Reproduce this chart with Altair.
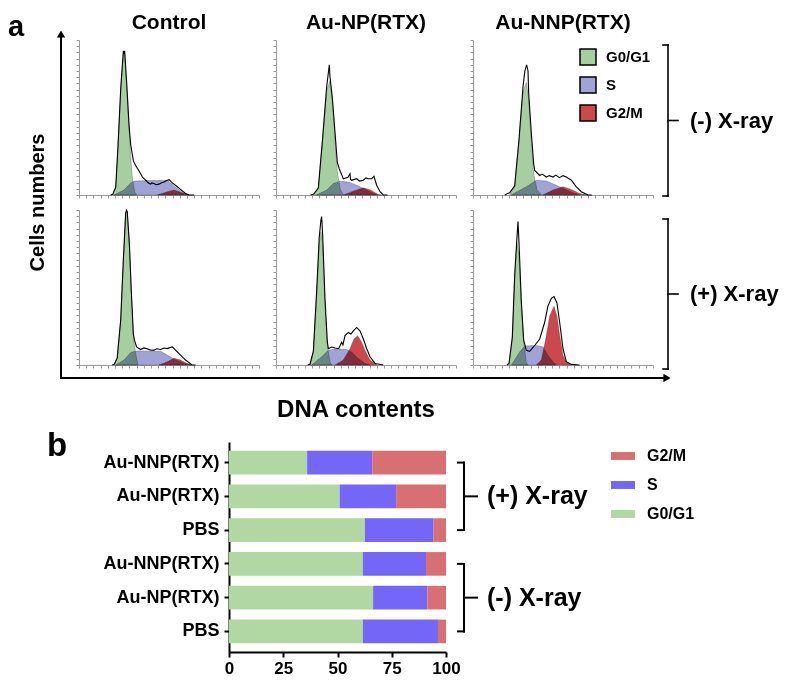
import altair as alt
import pandas as pd

FONT = "Liberation Sans"

# ---------------- panel a : DNA histograms ----------------
TREATMENTS = ["Control", "Au-NP(RTX)", "Au-NNP(RTX)"]
XRAYS = ["(-) X-ray", "(+) X-ray"]
PHASES_A = ["G0/G1", "S", "G2/M"]
COLORS_A = ["#a6cea0", "#a0a3d6", "#cb484c"]

# (DNA channel, relative count)
CTRL_NEG_G1 = [(46, 0), (51, 5), (54, 30), (58, 68), (61.6, 91), (63.4, 91.6), (66, 72.6), (69.5, 43), (71.8, 24), (74, 11.6), (77.3, 2), (80, 0)]
CTRL_NEG_S = [(48.6, 0), (62.5, 3.2), (71.8, 7.8), (77.3, 9), (95, 9.3), (122.7, 9.3), (127, 7.8), (136.6, 4.2), (145.8, 1), (152.8, 0)]
CTRL_NEG_G2 = [(108.8, 0), (122.7, 2.1), (132, 3.2), (141, 1.7), (152.8, 0)]
CTRL_NEG_RAW = [(44, 0), (47, 0.5), (51, 5), (54, 30), (58, 69), (61.6, 93), (62.8, 91), (63.4, 93), (66, 74), (69.5, 45), (71.8, 32.6), (75.5, 22), (78.7, 19), (83, 15.8), (88, 11.6), (95, 8.4), (97, 7.6), (99.5, 7), (101, 7.8), (104, 7.4), (107, 6.6), (111, 7), (114, 7.8), (118, 8.4), (121, 9.2), (125, 9.9), (129.6, 7.8), (134, 6.3), (141, 3.6), (148, 1), (153, 0), (160, 0)]

CTRL_POS_G1 = [(48.6, 0), (53, 4.3), (57.9, 28.7), (61.6, 67), (64.8, 97.9), (67, 99), (70, 77.7), (72.7, 45.8), (75.5, 18), (78.7, 7.4), (82, 0)]
CTRL_POS_S = [(51, 0), (62.5, 3.2), (71.8, 8), (80, 9.1), (113.4, 8.9), (122.7, 6.4), (134, 3.2), (146, 1), (157, 0)]
CTRL_POS_G2 = [(111, 0), (122.7, 2.1), (132, 4.3), (141, 3.2), (150, 1), (157, 0)]
CTRL_POS_RAW = [(46, 0), (49, 0.5), (53, 4.5), (57.9, 29), (61.6, 68), (64.8, 98), (66, 100), (67, 99), (70, 78), (72.7, 47), (75.5, 20), (77, 16), (80, 11.7), (85.6, 10), (90, 11), (95, 10.4), (100, 9.5), (104, 9.6), (108, 10.5), (113.4, 10), (118, 11), (122.7, 10.6), (126, 11.2), (129.6, 11.7), (134, 9.6), (141, 6.4), (148, 3.2), (157, 0), (162, 0)]

NP_NEG_G1 = [(51.9, 0), (58.8, 4.2), (64.8, 35.8), (70.4, 67.4), (75, 73.7), (78.2, 61), (82, 35.8), (85.2, 14.7), (88.9, 4.2), (93.5, 0)]
NP_NEG_S = [(56.5, 0), (70.4, 3.2), (79.6, 7.4), (88.9, 8.8), (100.5, 8.4), (112, 6.3), (121.3, 4.2), (135, 1), (142, 0)]
NP_NEG_G2 = [(93.5, 0), (107.4, 2.5), (121.3, 4.6), (130.6, 3.4), (142, 0.4), (146.8, 0)]
NP_NEG_RAW = [(48, 0), (52, 0.5), (58.8, 4.5), (64.8, 37), (70.4, 70), (73, 80), (74, 84), (75, 76), (78.2, 63), (82, 40), (85.2, 21), (88, 16.8), (93.5, 10.5), (100, 11.5), (102.8, 13.7), (103.5, 10), (105, 9.5), (112, 10.5), (116, 9), (121.3, 9.5), (125, 11), (128, 10.5), (132.9, 10.5), (136, 12), (139.8, 6.3), (144.5, 2.1), (149, 0), (155, 0)]

NP_POS_G1 = [(47.2, 0), (51.9, 8.4), (56.5, 46), (60, 78), (62.5, 86), (64.8, 78), (68, 40), (71.3, 12.6), (75, 2), (77.3, 0)]
NP_POS_S = [(49.5, 0), (63.4, 5.3), (72.7, 9.5), (84.3, 10.5), (98, 10), (105, 8.4), (114, 4.2), (123.6, 1), (130.6, 0)]
NP_POS_G2 = [(82, 0), (93.5, 3.2), (102.8, 10.5), (108.3, 16.8), (113.4, 18.9), (119, 14.7), (123.6, 9.5), (130.6, 3.2), (140, 0)]
NP_POS_RAW = [(44, 0), (47.2, 0.5), (51.9, 9), (56.5, 48), (60, 82), (62.5, 94), (63.4, 95.8), (64.8, 84), (68, 43), (71.3, 15), (72.7, 10.5), (77.3, 11.6), (82, 11), (87, 10.5), (91.2, 14.7), (93, 13), (95.8, 19), (100.5, 21), (104, 20), (107.4, 22), (112, 24.2), (116.6, 22), (121.3, 16.8), (126, 10.5), (130.6, 5.3), (137.6, 1), (149, 0)]

NNP_NEG_G1 = [(51, 0), (57.9, 5.3), (63.9, 34.7), (69.5, 66.3), (74, 72.6), (77.3, 62), (81, 34.7), (84.3, 13.7), (88.9, 3.2), (95, 0)]
NNP_NEG_S = [(53, 0), (74, 5.3), (88, 9.5), (102, 9), (115.7, 6.3), (129.6, 3.2), (141, 1), (148, 0)]
NNP_NEG_G2 = [(97, 0), (111, 3.2), (125, 5.3), (136.6, 3.6), (148, 1), (159.7, 0)]
NNP_NEG_RAW = [(44, 0), (48, 1), (51, 1.5), (57.9, 6), (63.9, 36), (69.5, 70), (72, 80), (74.5, 84), (76.4, 80), (77.3, 66), (81, 40), (84.3, 20), (85.7, 15.8), (92.6, 12.6), (96, 13.5), (101.9, 11.6), (106, 12.5), (111, 11.6), (115, 12.8), (120, 11.2), (125, 12.5), (129.6, 11.6), (136.6, 9.5), (143.5, 5.3), (150.5, 2.1), (159.7, 0), (165, 0)]

NNP_POS_G1 = [(50, 0), (54.6, 16.8), (57.9, 56.8), (61, 79), (63.9, 70.5), (67, 40), (70.4, 14.7), (74, 2), (76.4, 0)]
NNP_POS_S = [(53.3, 0), (64.8, 8.4), (71.8, 12.2), (88, 12.6), (97.2, 11.6), (104, 6.3), (111, 2.1), (115.7, 0)]
NNP_POS_G2 = [(88, 0), (94.9, 3.2), (101, 16.8), (106.5, 31.6), (112.5, 37.9), (116.6, 31.6), (120.4, 19), (125, 6.3), (129.6, 1.7), (136.6, 0)]
NNP_POS_RAW = [(47, 0), (50, 1), (54.6, 18), (57.9, 58), (61, 82), (62.5, 92.6), (63.4, 84), (64.5, 72), (67, 42), (70.4, 16), (74, 9.5), (78.7, 8.8), (85.7, 12.6), (92.6, 16.8), (99.5, 27.4), (104, 37.9), (108.8, 43), (112.5, 44.2), (116.6, 40), (120.4, 27.4), (125, 10.5), (129.6, 2.1), (136.6, 0.4), (148, 0)]

# ---------------- panel b : phase fractions ----------------
B_GROUPS = ["(+) X-ray", "(+) X-ray", "(+) X-ray", "(-) X-ray", "(-) X-ray", "(-) X-ray"]
B_LABELS = ["Au-NNP(RTX)", "Au-NP(RTX)", "PBS", "Au-NNP(RTX)", "Au-NP(RTX)", "PBS"]
B_G0G1 = [36.0, 51.0, 62.6, 61.7, 66.4, 61.7]
B_S = [30.0, 26.0, 31.7, 29.1, 25.0, 34.6]
B_G2M = [34.0, 23.0, 5.7, 9.2, 8.6, 3.7]
PHASES_B = ["G2/M", "S", "G0/G1"]
COLORS_B = ["#d87073", "#7466f6", "#b1d8a3"]

# ================= layout constants (pixels) =================
W_A, H_A = 180, 155
COL_GAP, ROW_GAP = 17, 15
XMAX, YMAX = 250, 100
ONE = pd.DataFrame({"k": [0]})

# ================= build panel a =================
HIST = {
    ("Control", XRAYS[0]): (CTRL_NEG_G1, CTRL_NEG_S, CTRL_NEG_G2, CTRL_NEG_RAW),
    ("Control", XRAYS[1]): (CTRL_POS_G1, CTRL_POS_S, CTRL_POS_G2, CTRL_POS_RAW),
    ("Au-NP(RTX)", XRAYS[0]): (NP_NEG_G1, NP_NEG_S, NP_NEG_G2, NP_NEG_RAW),
    ("Au-NP(RTX)", XRAYS[1]): (NP_POS_G1, NP_POS_S, NP_POS_G2, NP_POS_RAW),
    ("Au-NNP(RTX)", XRAYS[0]): (NNP_NEG_G1, NNP_NEG_S, NNP_NEG_G2, NNP_NEG_RAW),
    ("Au-NNP(RTX)", XRAYS[1]): (NNP_POS_G1, NNP_POS_S, NNP_POS_G2, NNP_POS_RAW),
}

AX_COL = "#9a9a9a"
xs = alt.Scale(domain=[0, XMAX], nice=False, zero=False)
ys = alt.Scale(domain=[0, YMAX], nice=False, zero=False)
ax_x = alt.Axis(values=list(range(0, XMAX + 1, 10)), labels=False, title=None, grid=False,
                domainColor=AX_COL, tickColor=AX_COL, tickSize=3, domainWidth=1, tickWidth=1)
ax_y = alt.Axis(values=list(range(0, YMAX + 1, 4)), labels=False, title=None, grid=False,
                domainColor=AX_COL, tickColor=AX_COL, tickSize=3, domainWidth=1, tickWidth=1)
X = alt.X("x:Q", scale=xs, axis=ax_x)
Y = alt.Y("y:Q", scale=ys, axis=ax_y, stack=None)

leg_a = alt.Legend(orient="none", legendX=106, legendY=8, title=None, symbolType="square",
                   symbolSize=256, symbolStrokeColor="black", symbolStrokeWidth=1.5,
                   symbolOpacity=1, labelFontSize=15, labelFontWeight="bold", labelFont=FONT,
                   labelColor="black", rowPadding=6, labelOffset=9)


def text(t, x, y, size, align="center", baseline="alphabetic", angle=0):
    return alt.Chart(ONE).mark_text(text=t, fontSize=size, fontWeight="bold", font=FONT,
                                    color="black", align=align, baseline=baseline,
                                    angle=angle).encode(x=alt.value(x), y=alt.value(y))


def hline(x1, x2, y, w=2):
    return alt.Chart(ONE).mark_rule(color="black", strokeWidth=w, strokeCap="square").encode(
        x=alt.value(x1), x2=alt.value(x2), y=alt.value(y))


def vline(x, y1, y2, w=2):
    return alt.Chart(ONE).mark_rule(color="black", strokeWidth=w, strokeCap="square").encode(
        x=alt.value(x), y=alt.value(y1), y2=alt.value(y2))


def tri(shape, x, y):
    return alt.Chart(ONE).mark_point(shape=shape, filled=True, size=70, color="black",
                                     opacity=1).encode(x=alt.value(x), y=alt.value(y))


def bracket(top, bot, label):
    bx = W_A + 15
    mid = (top + bot) / 2
    return [vline(bx, top, bot, 1.6), hline(bx - 5, bx, top, 1.6), hline(bx - 5, bx, bot, 1.6),
            hline(bx, bx + 10, mid, 1.6), text(label, bx + 22, mid, 22, align="left", baseline="middle")]


def cell(treatment, xray, extras, legend=None):
    g1, s, g2, raw = HIST[(treatment, xray)]
    rows = []
    for name, pts in (("G0/G1", g1), ("S", s), ("G2/M", g2)):
        for x, y in pts:
            rows.append(dict(series=name, x=x, y=y))
    areas_df = pd.DataFrame(rows)
    raw_df = pd.DataFrame(raw, columns=["x", "y"])
    color = alt.Color("series:N", scale=alt.Scale(domain=PHASES_A, range=COLORS_A), legend=legend)
    layers = []
    for ph in ("S", "G0/G1", "G2/M"):
        layers.append(alt.Chart(areas_df).transform_filter(alt.datum.series == ph).mark_area(
            blend="multiply", opacity=1, stroke="#333333", strokeWidth=0.5, strokeOpacity=0.6
        ).encode(x=X, y=Y, color=color))
    layers.append(alt.Chart(raw_df).mark_line(color="black", strokeWidth=1.1).encode(x=X, y=Y))
    layers.extend(extras)
    return alt.layer(*layers).properties(width=W_A, height=H_A)


HEAD_Y = -11
TOP_EDGE = -31
c11 = cell("Control", XRAYS[0], [
    alt.Chart(ONE).mark_point(opacity=0, size=1).encode(x=alt.value(-60), y=alt.value(TOP_EDGE)),
    vline(-18, -5, H_A + 8), tri("triangle-up", -18, -6),
    text("Control", W_A / 2, HEAD_Y, 21),
    text("a", -71, -4.5, 29, align="left"),
    text("Cells numbers", -41, H_A + ROW_GAP / 2, 20, baseline="middle", angle=270),
])
c12 = cell("Au-NP(RTX)", XRAYS[0], [text("Au-NP(RTX)", W_A / 2, HEAD_Y, 21)])
c13 = cell("Au-NNP(RTX)", XRAYS[0], [text("Au-NNP(RTX)", W_A / 2, HEAD_Y, 21)] +
           bracket(5, H_A + 1, XRAYS[0]), legend=leg_a)
ARR_Y = H_A + 13
c21 = cell("Control", XRAYS[1], [vline(-18, -8, ARR_Y), hline(-18, W_A + 9, ARR_Y)])
c22 = cell("Au-NP(RTX)", XRAYS[1], [hline(-9, W_A + 9, ARR_Y),
                                    text("DNA contents", 80, H_A + 45, 24, baseline="middle")])
c23 = cell("Au-NNP(RTX)", XRAYS[1], [hline(-9, W_A + 12, ARR_Y), tri("triangle-right", W_A + 14, ARR_Y)] +
           bracket(9, H_A + 4, XRAYS[1]))

# ================= build panel b =================
# panel b sits under the first histogram column; its scales are shifted right inside that slot
X0_B, W_B, H_B, TOP_B = 150, 217, 210, 62
KEYS = [f"{g}|{l}" for g, l in zip(B_GROUPS, B_LABELS)]
rows_b = []
for k, a, s, m in zip(KEYS, B_G0G1, B_S, B_G2M):
    rows_b.append(dict(key=k, phase="G0/G1", value=a, ord=0))
    rows_b.append(dict(key=k, phase="S", value=s, ord=1))
    rows_b.append(dict(key=k, phase="G2/M", value=m, ord=2))
df_b = pd.DataFrame(rows_b)

BPX = 100 / W_B
brk_rows_v, brk_rows_h, brk_txt = [], [], []
for grp, (i0, i1, i2) in ((XRAYS[1], (0, 1, 2)), (XRAYS[0], (3, 4, 5))):
    xv = 100 + 18 * BPX
    brk_rows_v.append(dict(k0=KEYS[i0], k1=KEYS[i2], x=xv))
    brk_rows_h.append(dict(k0=KEYS[i0], x=xv - 6 * BPX, x2=xv))
    brk_rows_h.append(dict(k0=KEYS[i2], x=xv - 6 * BPX, x2=xv))
    brk_rows_h.append(dict(k0=KEYS[i1], x=xv, x2=xv + 13 * BPX))
    brk_txt.append(dict(k0=KEYS[i1], x=xv + 23 * BPX, text=grp))

xsb = alt.Scale(domain=[0, 100], range=[X0_B, X0_B + W_B], nice=False)
ax_xb = alt.Axis(values=[0, 25, 50, 75, 100], title=None, grid=False, domainColor="black",
                 domainWidth=2, tickColor="black", tickWidth=2, tickSize=5, labelFontSize=17,
                 labelFontWeight="bold", labelFont=FONT, labelColor="black", labelPadding=3,
                 labelFlush=False)
ysb = alt.Scale(domain=KEYS, range=[TOP_B, TOP_B + H_B], paddingInner=0.3, paddingOuter=0.26)
ax_yb = alt.Axis(title=None, domainColor="black", domainWidth=2, tickColor="black", tickWidth=2,
                 tickSize=5, labelFontSize=18, labelFontWeight="bold", labelFont=FONT,
                 labelColor="black", labelPadding=5, labelLimit=300, offset=-X0_B,
                 labelExpr="split(datum.label, '|')[1]")
leg_b = alt.Legend(orient="none", legendX=X0_B + 382, legendY=TOP_B + 2, title=None,
                   symbolType="M-1,-0.33H1V0.33H-1Z", symbolSize=576, symbolStrokeWidth=0,
                   symbolOpacity=1, labelFontSize=16, labelFontWeight="bold", labelFont=FONT,
                   labelColor="black", rowPadding=9, labelOffset=12)

bars = alt.Chart(df_b).mark_bar().encode(
    x=alt.X("value:Q", stack="zero", scale=xsb, axis=ax_xb),
    y=alt.Y("key:N", sort=KEYS, scale=ysb, axis=ax_yb),
    color=alt.Color("phase:N", scale=alt.Scale(domain=PHASES_B, range=COLORS_B), legend=leg_b),
    order=alt.Order("ord:Q"),
)
bv = alt.Chart(pd.DataFrame(brk_rows_v)).mark_rule(color="black", strokeWidth=2, strokeCap="square").encode(
    x=alt.X("x:Q", scale=xsb, axis=ax_xb), y=alt.Y("k0:N", sort=KEYS, scale=ysb, axis=ax_yb),
    y2=alt.Y2("k1:N"))
bh = alt.Chart(pd.DataFrame(brk_rows_h)).mark_rule(color="black", strokeWidth=2, strokeCap="square").encode(
    x=alt.X("x:Q", scale=xsb, axis=ax_xb), x2=alt.X2("x2:Q"),
    y=alt.Y("k0:N", sort=KEYS, scale=ysb, axis=ax_yb))
bt = alt.Chart(pd.DataFrame(brk_txt)).mark_text(align="left", baseline="middle", fontSize=25,
                                               fontWeight="bold", font=FONT, color="black").encode(
    x=alt.X("x:Q", scale=xsb, axis=ax_xb), y=alt.Y("k0:N", sort=KEYS, scale=ysb, axis=ax_yb),
    text="text:N")

panel_b = alt.layer(bars, bv, bh, bt, text("b", -32, TOP_B + 14, 33, align="left")).properties(
    width=W_A, height=TOP_B + H_B)

chart = alt.concat(c11, c12, c13, c21, c22, c23, panel_b, columns=3, align="each",
                   bounds="flush", spacing={"row": ROW_GAP, "column": COL_GAP}).resolve_scale(
    color="independent").properties(padding=0).configure(font=FONT).configure_view(stroke=None)

chart.save("out.html", embed_options={"renderer": "svg", "actions": False})
